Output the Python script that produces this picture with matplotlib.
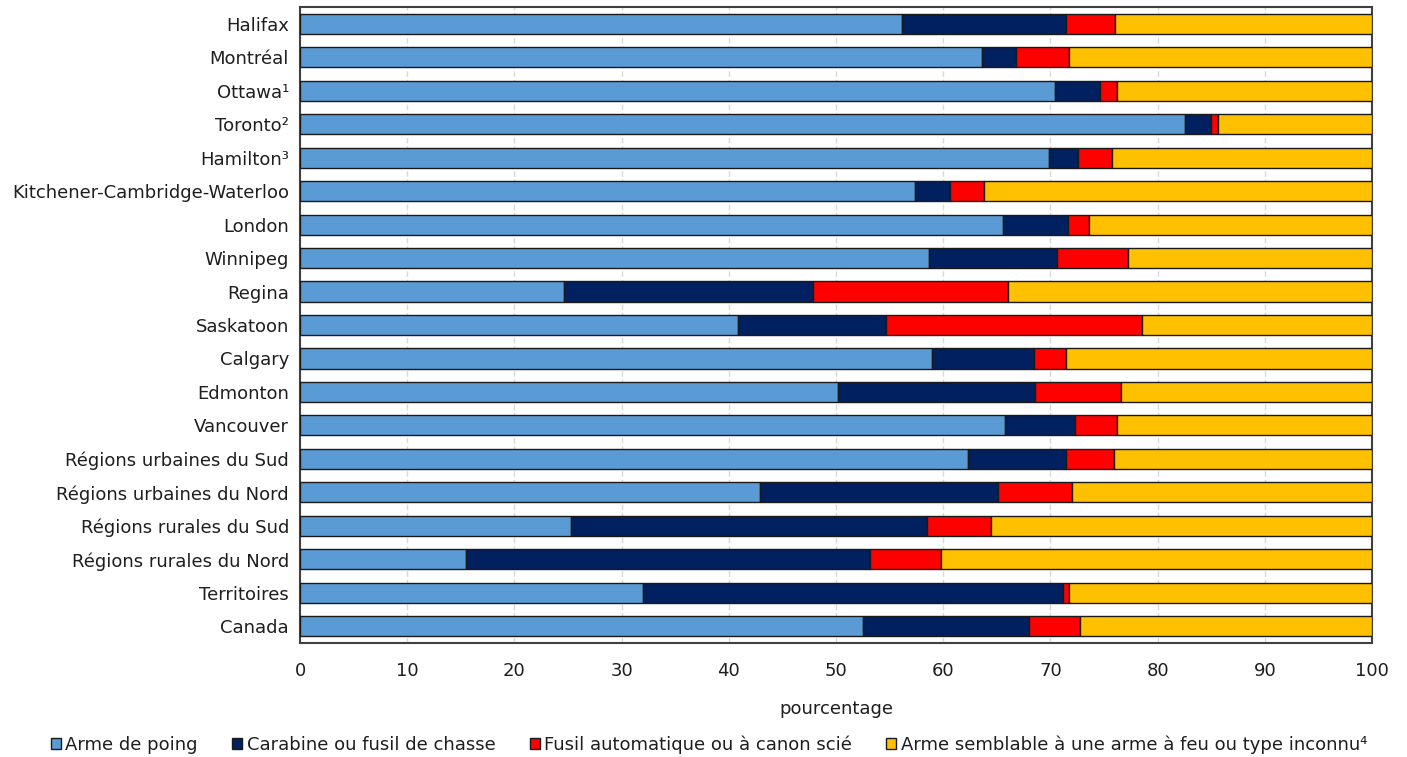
import numpy as np
import matplotlib.pyplot as plt

regions = ["Halifax", "Montréal", "Ottawa¹", "Toronto²", "Hamilton³",
           "Kitchener-Cambridge-Waterloo", "London", "Winnipeg", "Regina",
           "Saskatoon", "Calgary", "Edmonton", "Vancouver",
           "Régions urbaines du Sud", "Régions urbaines du Nord",
           "Régions rurales du Sud", "Régions rurales du Nord",
           "Territoires", "Canada"]

# shares in percent; the last series fills up to 100
arme_poing = [56.2, 63.6, 70.4, 82.6, 69.9, 57.4, 65.6, 58.7, 24.6, 40.9,
              59.0, 50.2, 65.8, 62.3, 42.9, 25.3, 15.5, 32.0, 52.5]
carabine = [15.3, 3.2, 4.2, 2.4, 2.7, 3.2, 6.0, 11.9, 23.3, 13.8,
            9.5, 18.4, 6.5, 9.2, 22.2, 33.2, 37.7, 39.2, 15.5]
fusil_auto = [4.5, 4.9, 1.6, 0.6, 3.1, 3.2, 2.0, 6.6, 18.1, 23.8,
              3.0, 8.0, 3.9, 4.4, 6.9, 6.0, 6.6, 0.5, 4.8]
semblable = [100 - a - b - c for a, b, c in zip(arme_poing, carabine, fusil_auto)]

series = [
    ("Arme de poing", arme_poing, "#5B9BD5"),
    ("Carabine ou fusil de chasse", carabine, "#002060"),
    ("Fusil automatique ou à canon scié", fusil_auto, "#FF0000"),
    ("Arme semblable à une arme à feu ou type inconnu⁴", semblable, "#FFC000"),
]

plt.rcParams['font.family'] = ['DejaVu Sans']
fs = 13
txt = "#1e1e1e"
fig = plt.figure(figsize=(14.07, 7.57), dpi=100)
ax = fig.add_axes([300 / 1407, 1 - 643 / 757, 1072 / 1407, 636 / 757])

y = np.arange(len(regions))
left = np.zeros(len(regions))
for name, vals, col in series:
    ax.barh(y, vals, left=left, height=0.6, color=col, edgecolor="#1a1a1a",
            linewidth=1.0, label=name, zorder=3)
    left += np.array(vals)

ax.set_ylim(len(regions) - 0.5, -0.5)
ax.set_yticks(y)
ax.set_yticklabels(regions, fontsize=fs, color=txt)
ax.set_xlim(0, 100)
ax.set_xticks(np.arange(0, 101, 10))
ax.tick_params(axis="x", labelsize=fs, length=0, pad=14, colors=txt)
ax.tick_params(axis="y", length=0, pad=8)
ax.grid(axis="x", color="#d9d9d9", linewidth=1, linestyle=(0, (4, 2)), zorder=0)
ax.set_xlabel("pourcentage", fontsize=fs, labelpad=14, color=txt)
for s in ax.spines.values():
    s.set_color("#404040")
    s.set_linewidth(1.5)

leg = fig.legend(loc="center", bbox_to_anchor=(0.504, 1 - 745 / 757), ncol=4,
                 frameon=False, fontsize=fs, handlelength=0.55, handleheight=0.55,
                 handletextpad=0.25, columnspacing=1.9, borderaxespad=0)
for t in leg.get_texts():
    t.set_color(txt)

plt.savefig("out.png", dpi=100)
